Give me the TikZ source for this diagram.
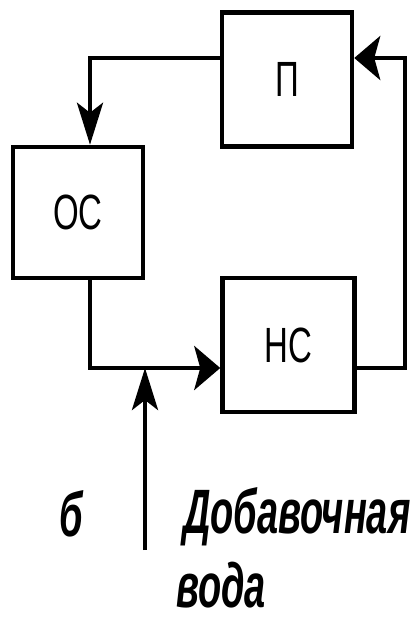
\documentclass[tikz,border=0pt]{standalone}
\usepackage{fontspec}
\setmainfont{Liberation Sans}
\usetikzlibrary{arrows.meta}
\begin{document}
\begin{tikzpicture}[x=1pt,y=-1pt,line join=miter,
  blk/.style={draw,line width=4.5pt,minimum width=#1,inner sep=0pt},
  lbl/.style={font=\fontsize{33}{36}\selectfont,yscale=1.5,transform shape},
  captxt/.style={font=\fontsize{38}{40}\selectfont\bfseries\itshape,yscale=1.65,transform shape,inner sep=0pt},
  conn/.style={line width=4.5pt},
  harrow/.style={-{Stealth[length=26pt,width=44pt,inset=6pt]}},
  varrow/.style={-{Stealth[length=42pt,width=26pt,inset=10pt]}}]
\useasboundingbox (0,0) rectangle (413,625);
\node[blk=130pt,minimum height=134pt] (P) at (287,79.5) {};
\node[lbl] (Pt) at (P.center) {П};
\node[blk=130pt,minimum height=131pt] (OS) at (78,212.5) {};
\node[lbl] (OSt) at (OS.center) {ОС};
\node[blk=132pt,minimum height=134pt] (NS) at (288.5,345) {};
\node[lbl] (NSt) at (NS.center) {НС};
\coordinate (c1) at (90,58);
\coordinate (c2) at (90,368);
\coordinate (c3) at (405,368);
\coordinate (c4) at (405,58);
\coordinate (w) at (145,550);
\draw[conn,varrow] (c1 -| P.west) -- (c1) -- (c1 |- OS.north);
\draw[conn,harrow] (c2 |- OS.south) -- (c2) -- (c2 -| NS.west);
\draw[conn,harrow] (c3 -| NS.east) -- (c3) -- (c4) -- (c4 -| P.east);
\draw[conn,varrow] (w) -- (w |- c2);
\node[captxt,anchor=base] (b) at (71,536) {б};
\node[captxt,anchor=base west] (dob) at (183,533) {Добавочная};
\node[captxt,anchor=base] (voda) at (221,607) {вода};
\end{tikzpicture}
\end{document}
